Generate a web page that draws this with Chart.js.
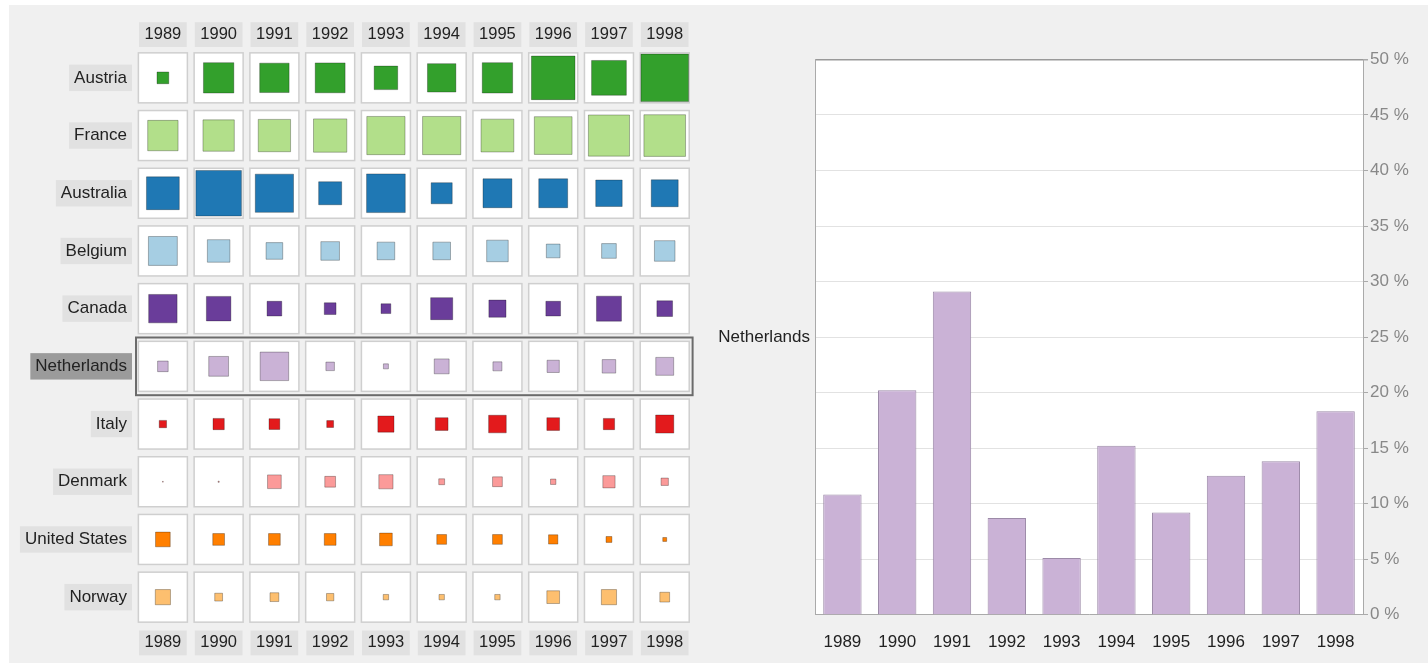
<!DOCTYPE html>
<html>
<head>
<meta charset="utf-8">
<script src="https://cdn.jsdelivr.net/npm/chart.js@4.4.1/dist/chart.umd.min.js"></script>
<style>
  html, body { margin: 0; padding: 0; background: #ffffff; width: 1428px; height: 671px; overflow: hidden; }
  #panel { position: absolute; left: 9px; top: 5px; width: 1419px; height: 658px; background: #f0f0f0; }
  #grid { position: absolute; left: 0; top: 0; }
  #bars { position: absolute; left: 700px; top: 0; }
</style>
</head>
<body>
<div id="panel"></div>
<canvas id="grid" width="700" height="671"></canvas>
<canvas id="bars" width="728" height="671"></canvas>
<script>
// Share of each year (%), one list per country
const years = ['1989', '1990', '1991', '1992', '1993', '1994', '1995', '1996', '1997', '1998'];
const countries = ['Austria', 'France', 'Australia', 'Belgium', 'Canada', 'Netherlands', 'Italy', 'Denmark', 'United States', 'Norway'];

const austria      = [12, 31, 30, 30.5, 24, 29, 31, 44.5, 35.5, 48.5];
const france       = [31, 32, 33, 34, 39, 39, 33.5, 38.5, 42, 42.5];
const australia    = [33.5, 46.5, 39, 23.5, 39.5, 21.5, 29.5, 29.5, 27, 27.5];
const belgium      = [29.5, 23, 17, 19, 18, 18, 22, 14, 15, 21];
const canada       = [29, 25, 15, 12, 10, 22.5, 17.5, 15, 25.5, 16];
const netherlands  = [10.8, 20.2, 29.1, 8.7, 5.1, 15.2, 9.2, 12.5, 13.8, 18.3];
const italy        = [7.5, 11.5, 11, 7, 16.5, 13, 18, 13, 11.5, 18.5];
const denmark      = [0.8, 1.2, 14, 11, 14.5, 6, 10, 5.5, 12.5, 7.5];
const unitedStates = [15, 12, 12, 12, 13, 10, 10, 9.5, 6, 4];
const norway       = [15.5, 8, 9, 7.5, 5.5, 5.5, 5.5, 13, 15.5, 10];

const seriesByCountry = [austria, france, australia, belgium, canada, netherlands, italy, denmark, unitedStates, norway];
const palette = ['#33a02c', '#b2df8a', '#1f78b4', '#a6cee3', '#6a3d9a', '#cab2d6', '#e31a1c', '#fb9a99', '#ff7f00', '#fdbf6f'];

const selectedCountry = 'Netherlands';
const axisMax = 50;      // percent
const axisStep = 5;

const FONT = "'Liberation Sans', Arial, Helvetica, sans-serif";
const PX_PER_PCT = 0.98; // square side per percentage point
const CELL_W = 49, CELL_H = 50;

// ---------- small-multiple grid of squares ----------
const cellBackground = {
  id: 'cellBackground',
  beforeDatasetsDraw(chart) {
    const { ctx } = chart;
    const xs = chart.scales.x, ys = chart.scales.y;
    ctx.save();
    ctx.fillStyle = '#ffffff';
    ctx.strokeStyle = '#cfcfcf';
    ctx.lineWidth = 1.5;
    years.forEach((yr, i) => {
      countries.forEach((c, j) => {
        const px = xs.getPixelForValue(i);
        const py = ys.getPixelForValue(j);
        ctx.fillRect(px - CELL_W / 2, py - CELL_H / 2, CELL_W, CELL_H);
        ctx.strokeRect(px - CELL_W / 2, py - CELL_H / 2, CELL_W, CELL_H);
      });
    });
    ctx.restore();
  }
};

const rowHighlight = {
  id: 'rowHighlight',
  afterDatasetsDraw(chart) {
    const { ctx, chartArea } = chart;
    const ys = chart.scales.y;
    const j = countries.indexOf(selectedCountry);
    const pitch = ys.getPixelForValue(1) - ys.getPixelForValue(0);
    const cy = ys.getPixelForValue(j);
    ctx.save();
    ctx.strokeStyle = '#6b6b6b';
    ctx.lineWidth = 2;
    ctx.strokeRect(chartArea.left + 1, cy - pitch / 2, chartArea.right - chartArea.left - 1, pitch);
    ctx.restore();
  }
};

const yearTicks = (pad) => ({
  color: '#222',
  font: { family: FONT, size: 16.5 },
  padding: pad,
  autoSkip: false,
  maxRotation: 0,
  showLabelBackdrop: true,
  backdropColor: '#e1e1e1',
  backdropPadding: { top: 2.5, bottom: 2.5, left: 5.5, right: 5.5 }
});

const noSidePadding = (s) => { s.paddingLeft = 0; s.paddingRight = 0; };

new Chart(document.getElementById('grid'), {
  type: 'scatter',
  data: {
    datasets: countries.map((c, j) => ({
      label: c,
      data: years.map((yr) => ({ x: yr, y: c })),
      backgroundColor: palette[j],
      borderColor: 'rgba(0,0,0,0.28)',
      borderWidth: 1,
      pointStyle: 'rect',
      pointRadius: (ctx) => (seriesByCountry[j][ctx.dataIndex] * PX_PER_PCT) / Math.SQRT2
    }))
  },
  options: {
    responsive: false,
    animation: false,
    events: [],
    layout: { autoPadding: false, padding: { left: 0, right: 7.4, top: 0, bottom: 0 } },
    plugins: { legend: { display: false }, tooltip: { enabled: false } },
    scales: {
      x: {
        type: 'category', labels: years, position: 'bottom', offset: true,
        grid: { display: false }, border: { display: false },
        ticks: yearTicks(-1),
        afterFit: (s) => { s.height = 45; noSidePadding(s); }
      },
      xTop: {
        type: 'category', labels: years, position: 'top', offset: true,
        grid: { display: false }, border: { display: false },
        ticks: yearTicks(-3.5),
        afterFit: (s) => { s.height = 49; noSidePadding(s); }
      },
      y: {
        type: 'category', labels: countries, position: 'left', offset: true,
        grid: { display: false }, border: { display: false },
        ticks: {
          color: '#222',
          font: { family: FONT, size: 17 },
          padding: 0,
          autoSkip: false,
          showLabelBackdrop: true,
          backdropColor: (ctx) => (countries[ctx.index] === selectedCountry ? '#9b9b9b' : '#e1e1e1'),
          backdropPadding: { top: 3, bottom: 3, left: 5, right: 5 }
        },
        afterFit: (s) => { s.width = 135; }
      }
    }
  },
  plugins: [cellBackground, rowHighlight]
});

// ---------- bar chart for the selected country ----------
const plotBackground = {
  id: 'plotBackground',
  beforeDraw(chart) {
    const { ctx, chartArea: a } = chart;
    ctx.save();
    ctx.fillStyle = '#ffffff';
    ctx.fillRect(a.left, a.top, a.right - a.left, a.bottom - a.top);
    ctx.restore();
  }
};

const sideTitle = {
  id: 'sideTitle',
  afterDraw(chart) {
    const { ctx, chartArea: a } = chart;
    ctx.save();
    ctx.font = '17px ' + FONT;
    ctx.fillStyle = '#222';
    ctx.textAlign = 'right';
    ctx.textBaseline = 'middle';
    ctx.fillText(selectedCountry, a.left - 5, (a.top + a.bottom) / 2);
    ctx.restore();
  }
};

const selIdx = countries.indexOf(selectedCountry);

new Chart(document.getElementById('bars'), {
  type: 'bar',
  data: {
    labels: years,
    datasets: [{
      label: selectedCountry,
      data: seriesByCountry[selIdx],
      backgroundColor: palette[selIdx],
      borderColor: '#9c8aa8',
      borderWidth: 1,
      barPercentage: 0.7,
      categoryPercentage: 1.0
    }]
  },
  options: {
    responsive: false,
    animation: false,
    events: [],
    layout: { padding: { top: 59.5, right: 0, left: 0, bottom: 0 } },
    plugins: { legend: { display: false }, tooltip: { enabled: false } },
    scales: {
      x: {
        grid: { display: false },
        border: { color: '#aaaaaa' },
        ticks: { color: '#222', font: { family: FONT, size: 17 }, padding: 10, maxRotation: 0 },
        afterFit: (s) => { s.height = 56.5; }
      },
      yl: {
        type: 'linear', position: 'left', min: 0, max: axisMax,
        grid: { display: false },
        ticks: { display: false },
        border: { color: '#aaaaaa' },
        afterFit: (s) => { s.width = 115; }
      },
      y: {
        type: 'linear', position: 'right', min: 0, max: axisMax, z: 1,
        grid: {
          color: (ctx) => (ctx.tick && ctx.tick.value === axisMax ? '#999999' : '#e2e2e2'),
          lineWidth: (ctx) => (ctx.tick && ctx.tick.value === axisMax ? 1.5 : 1),
          tickColor: '#aaaaaa',
          tickLength: 5
        },
        border: { color: '#aaaaaa' },
        ticks: {
          stepSize: axisStep,
          color: '#888',
          font: { family: FONT, size: 17 },
          padding: 2,
          callback: (v) => v + ' %'
        },
        afterFit: (s) => { s.width = 65; }
      }
    }
  },
  plugins: [plotBackground, sideTitle]
});
</script>
</body>
</html>
